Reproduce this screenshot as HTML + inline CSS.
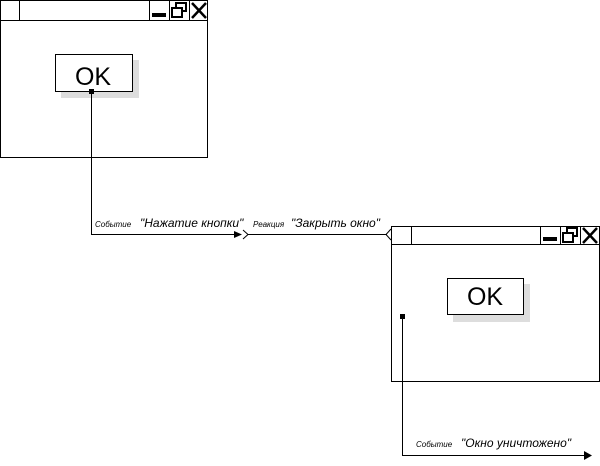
<!DOCTYPE html>
<html><head><meta charset="utf-8"><style>
body{margin:0;background:#fff;width:600px;height:461px;overflow:hidden}
svg text{font-family:"Liberation Sans",sans-serif;font-style:italic}
</style></head><body>
<svg width="600" height="461" viewBox="0 0 600 461" xmlns="http://www.w3.org/2000/svg">
<g stroke="#000" stroke-width="1" fill="none" shape-rendering="crispEdges">
<!-- window 1 -->
<rect x="0.5" y="0.5" width="207" height="157" fill="#fff"/>
<line x1="0" y1="20.5" x2="208" y2="20.5"/>
<line x1="19.5" y1="0" x2="19.5" y2="20"/>
<line x1="149.5" y1="0" x2="149.5" y2="20"/>
<line x1="169.5" y1="0" x2="169.5" y2="20"/>
<line x1="189.5" y1="0" x2="189.5" y2="20"/>
<rect x="61" y="60" width="78" height="38" fill="#ddd" stroke="none"/>
<rect x="55.5" y="54.5" width="77" height="37" fill="#fff"/>
<!-- window 2 -->
<rect x="391.5" y="226.5" width="208" height="155" fill="#fff"/>
<line x1="391" y1="244.5" x2="600" y2="244.5"/>
<line x1="411.5" y1="226" x2="411.5" y2="244"/>
<line x1="540.5" y1="226" x2="540.5" y2="244"/>
<line x1="560.5" y1="226" x2="560.5" y2="244"/>
<line x1="580.5" y1="226" x2="580.5" y2="244"/>
<rect x="453" y="284" width="77" height="38" fill="#ddd" stroke="none"/>
<rect x="447.5" y="278.5" width="76" height="36" fill="#fff"/>
<!-- connectors -->
<polyline points="91.5,92 91.5,234.5 241,234.5"/>
<line x1="248" y1="234.5" x2="387" y2="234.5"/>
<polyline points="402.5,316 402.5,455.5 586,455.5"/>
</g>
<g fill="#000">
<!-- title icons window 1 -->
<rect x="152" y="13" width="14" height="4"/>
<rect x="176" y="3" width="10" height="8" fill="none" stroke="#000" stroke-width="2"/>
<rect x="172" y="8" width="10" height="9" fill="#fff" stroke="#000" stroke-width="2"/>
<path d="M192 3 L206 18 M206 3 L192 18" stroke="#000" stroke-width="2.5"/>
<!-- title icons window 2 -->
<rect x="543" y="237" width="14" height="4"/>
<rect x="567" y="228" width="10" height="8" fill="none" stroke="#000" stroke-width="2"/>
<rect x="563" y="233" width="10" height="9" fill="#fff" stroke="#000" stroke-width="2"/>
<path d="M583 228 L597 243 M597 228 L583 243" stroke="#000" stroke-width="2.5"/>
<!-- dots -->
<rect x="89" y="89" width="5" height="5"/>
<rect x="400" y="314" width="5" height="5"/>
<!-- arrows -->
<path d="M234 231 L242 234.5 L234 238 Z"/>
<path d="M243 230 L248 234.5 L243 239" fill="none" stroke="#000"/>
<path d="M391 229 L386 234.5 L391 240" fill="none" stroke="#000"/>
<path d="M584 451 L592 455.5 L584 460 Z"/>
</g>
<g fill="#000">
<text x="93" y="85" font-size="25" style="font-style:normal" text-anchor="middle">OK</text>
<text x="485" y="305" font-size="25" style="font-style:normal" text-anchor="middle">OK</text>
<text x="95" y="227" font-size="8">Событие</text>
<text x="140" y="227" font-size="12">"Нажатие кнопки"</text>
<text x="253" y="227" font-size="8">Реакция</text>
<text x="291" y="227" font-size="12">"Закрыть окно"</text>
<text x="416" y="447" font-size="8">Событие</text>
<text x="461" y="447" font-size="12">"Окно уничтожено"</text>
</g>
</svg>
</body></html>
